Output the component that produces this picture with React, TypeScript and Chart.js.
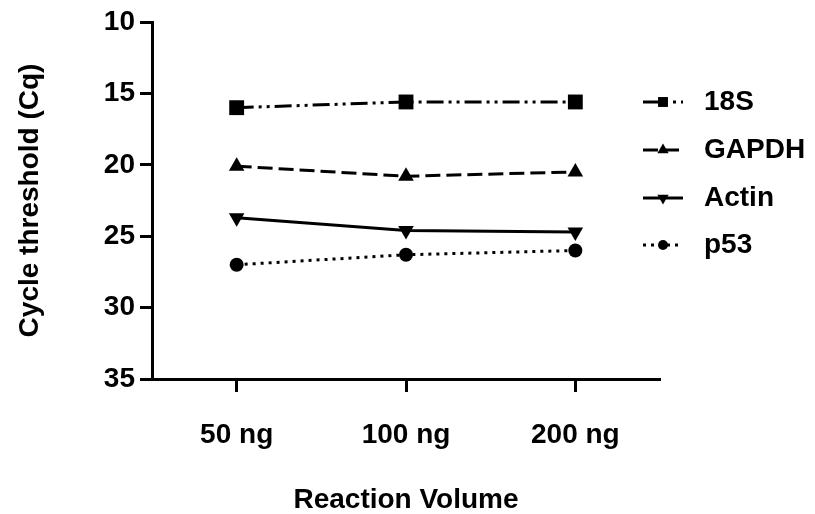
import React, { useEffect, useRef } from "react";
import { Chart, registerables } from "chart.js";

Chart.register(...registerables);

const categories = ["50 ng", "100 ng", "200 ng"];
const seriesNames = ["18S", "GAPDH", "Actin", "p53"];
const s18S = [16.0, 15.6, 15.6];
const sGAPDH = [20.1, 20.8, 20.5];
const sActin = [23.7, 24.6, 24.7];
const sP53 = [27.0, 26.3, 26.0];
const yTicks = [10, 15, 20, 25, 30, 35];

const FONT = "'Liberation Sans', Arial, sans-serif";

type Style = { dash: number[]; point: string; rot: number; r: number; lr: number };
const styles: Style[] = [
  { dash: [17, 5, 3, 5, 3, 5], point: "rect", rot: 0, r: 10.5, lr: 7 },
  { dash: [15, 6], point: "triangle", rot: 0, r: 9, lr: 6.5 },
  { dash: [], point: "triangle", rot: 180, r: 9, lr: 6.5 },
  { dash: [3, 5], point: "circle", rot: 0, r: 7, lr: 5 },
];

function drawMarker(ctx: CanvasRenderingContext2D, kind: string, rot: number, x: number, y: number, r: number) {
  ctx.beginPath();
  if (kind === "rect") {
    const s = r * Math.SQRT1_2;
    ctx.rect(x - s, y - s, 2 * s, 2 * s);
  } else if (kind === "triangle") {
    let a = (rot * Math.PI) / 180;
    for (let i = 0; i < 3; i++) {
      const px = x + Math.sin(a) * r;
      const py = y - Math.cos(a) * r;
      if (i === 0) ctx.moveTo(px, py);
      else ctx.lineTo(px, py);
      a += (2 * Math.PI) / 3;
    }
    ctx.closePath();
  } else {
    ctx.arc(x, y, r, 0, Math.PI * 2);
  }
  ctx.fill();
}

const legendPlugin = {
  id: "customLegend",
  afterDraw(chart: any) {
    const ctx: CanvasRenderingContext2D = chart.ctx;
    const ys = [102, 150, 198, 245];
    ctx.save();
    chart.data.datasets.forEach((ds: any, i: number) => {
      const st = styles[i];
      const y = ys[i];
      ctx.strokeStyle = "#000";
      ctx.fillStyle = "#000";
      ctx.lineWidth = 3;
      ctx.setLineDash(st.dash);
      ctx.beginPath();
      ctx.moveTo(643, y);
      ctx.lineTo(683, y);
      ctx.stroke();
      ctx.setLineDash([]);
      drawMarker(ctx, st.point, st.rot, 663, y, st.lr);
      ctx.font = `bold 28px ${FONT}`;
      ctx.textBaseline = "middle";
      ctx.textAlign = "left";
      ctx.fillText(ds.label, 704, y);
    });
    ctx.restore();
  },
};

export default function App() {
  const ref = useRef<HTMLCanvasElement | null>(null);
  useEffect(() => {
    if (!ref.current) return;
    const all = [s18S, sGAPDH, sActin, sP53];
    const chart = new Chart(ref.current, {
      type: "line",
      data: {
        datasets: all.map((vals, i) => ({
          label: seriesNames[i],
          data: vals.map((v, j) => ({ x: j + 1, y: v })),
          borderColor: "#000",
          backgroundColor: "#000",
          borderWidth: 3,
          borderDash: styles[i].dash,
          pointStyle: styles[i].point as any,
          rotation: styles[i].rot,
          pointRadius: styles[i].r,
          pointBorderWidth: 0,
          pointBackgroundColor: "#000",
          tension: 0,
          fill: false,
        })),
      },
      options: {
        animation: false,
        responsive: false,
        devicePixelRatio: 1,
        layout: { padding: { top: 22, right: 155, bottom: 0, left: 0 } },
        plugins: { legend: { display: false }, tooltip: { enabled: false } },
        scales: {
          x: {
            type: "linear",
            min: 0.5,
            max: 3.5,
            afterFit: (s: any) => {
              s.height = 135;
            },
            afterBuildTicks: (s: any) => {
              s.ticks = categories.map((_, i) => ({ value: i + 1 }));
            },
            ticks: {
              callback: (v: any) => categories[Number(v) - 1] ?? "",
              color: "#000",
              font: { family: FONT, size: 28, weight: "bold" },
              padding: 26,
              maxRotation: 0,
            },
            grid: {
              drawOnChartArea: false,
              drawTicks: true,
              tickLength: 13,
              tickWidth: 3,
              color: "#000",
            },
            border: { display: true, color: "#000", width: 3 },
            title: {
              display: true,
              text: "Reaction Volume",
              color: "#000",
              font: { family: FONT, size: 28, weight: "bold" },
              padding: { top: 0, bottom: -3 },
            },
          },
          y: {
            type: "linear",
            reverse: true,
            min: 10,
            max: 35,
            afterFit: (s: any) => {
              s.width = 152;
            },
            afterBuildTicks: (s: any) => {
              s.ticks = yTicks.map((v) => ({ value: v }));
            },
            ticks: {
              color: "#000",
              font: { family: FONT, size: 28, weight: "bold" },
              padding: 5,
            },
            grid: {
              drawOnChartArea: false,
              drawTicks: true,
              tickLength: 12,
              tickWidth: 3,
              color: "#000",
            },
            border: { display: true, color: "#000", width: 3 },
            title: {
              display: true,
              text: "Cycle threshold (Cq)",
              color: "#000",
              font: { family: FONT, size: 28, weight: "bold" },
              padding: { top: 13, bottom: 0 },
            },
          },
        },
      },
      plugins: [legendPlugin],
    });
    return () => chart.destroy();
  }, []);
  return (
    <div style={{ position: "fixed", left: 0, top: 0, width: 815, height: 514, background: "#fff" }}>
      <canvas ref={ref} width={815} height={514} style={{ display: "block", width: 815, height: 514 }} />
    </div>
  );
}
